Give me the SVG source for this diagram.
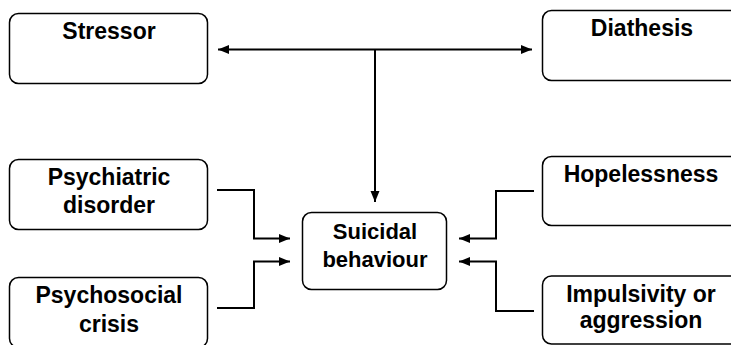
<svg xmlns="http://www.w3.org/2000/svg" width="731" height="345" viewBox="0 0 731 345">
<style>
.box{fill:#fff;stroke:#000;stroke-width:1.5}
.lbl{font-family:"Liberation Sans",Arial,sans-serif;font-weight:bold;font-size:23px;fill:#000;text-anchor:middle}
.mid{font-size:22px}
.con{fill:none;stroke:#000;stroke-width:2}
</style>
<defs>
<marker id="ah" markerUnits="userSpaceOnUse" markerWidth="12" markerHeight="10" refX="11" refY="5" orient="auto-start-reverse">
<path d="M0,0.5 L11,5 L0,9.5 z" fill="#000"/>
</marker>
</defs>
<rect width="731" height="345" fill="#fff"/>
<g id="connectors">
<line class="con" x1="218" y1="49.5" x2="532" y2="49.5" marker-start="url(#ah)" marker-end="url(#ah)"/>
<line class="con" x1="375" y1="49.5" x2="375" y2="202" marker-end="url(#ah)"/>
<polyline class="con" points="217,190 254,190 254,238.5 290,238.5" marker-end="url(#ah)"/>
<polyline class="con" points="217,308 254,308 254,261.5 290,261.5" marker-end="url(#ah)"/>
<polyline class="con" points="534,191 496,191 496,238.5 459,238.5" marker-end="url(#ah)"/>
<polyline class="con" points="534,311 496,311 496,261.5 459,261.5" marker-end="url(#ah)"/>
</g>
<g id="stressor">
<rect class="box" x="9.5" y="13.5" width="198" height="70" rx="9"/>
<text class="lbl" x="109" y="39">Stressor</text>
</g>
<g id="diathesis">
<rect class="box" x="542.5" y="10.5" width="200" height="70" rx="9"/>
<text class="lbl" x="642" y="36">Diathesis</text>
</g>
<g id="psychiatric">
<rect class="box" x="9.5" y="159.5" width="198" height="70" rx="9"/>
<text class="lbl" x="109" y="185">Psychiatric</text>
<text class="lbl" x="109" y="213">disorder</text>
</g>
<g id="psychosocial">
<rect class="box" x="9.5" y="277.5" width="198" height="70" rx="9"/>
<text class="lbl" x="109" y="303">Psychosocial</text>
<text class="lbl" x="109" y="332">crisis</text>
</g>
<g id="suicidal">
<rect class="box" x="302.5" y="212.5" width="144" height="77" rx="9"/>
<text class="lbl mid" x="375" y="239">Suicidal</text>
<text class="lbl mid" x="375" y="267">behaviour</text>
</g>
<g id="hopelessness">
<rect class="box" x="542.5" y="156.5" width="200" height="69" rx="9"/>
<text class="lbl" x="641" y="182">Hopelessness</text>
</g>
<g id="impulsivity">
<rect class="box" x="542.5" y="276" width="200" height="68" rx="9"/>
<text class="lbl" x="641" y="302">Impulsivity or</text>
<text class="lbl" x="641" y="328">aggression</text>
</g>
</svg>
